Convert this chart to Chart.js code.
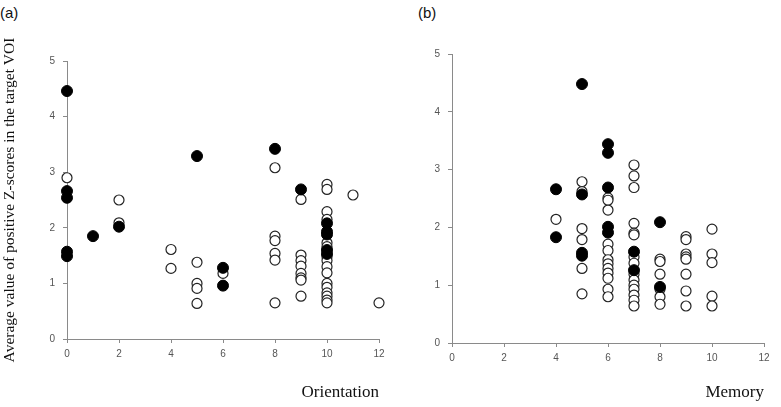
<!DOCTYPE html>
<html>
<head>
<meta charset="utf-8">
<script src="https://cdn.jsdelivr.net/npm/chart.js@4/dist/chart.umd.min.js"></script>
<style>
  body { margin: 0; background: #fff; }
  #wrap { position: relative; width: 781px; height: 407px; overflow: hidden; }
  .panel { position: absolute; top: 0; }
  .tag { position: absolute; top: 4px; font: 15px "Liberation Sans", Arial, sans-serif; color: #111; }
</style>
</head>
<body>
<div id="wrap">
  <div class="tag" style="left:0px">(a)</div>
  <div class="tag" style="left:418px">(b)</div>
  <div class="panel" style="left:0px;width:400px;height:407px"><canvas id="chartA"></canvas></div>
  <div class="panel" style="left:390px;width:391px;height:407px"><canvas id="chartB"></canvas></div>
</div>
<script>
//------------------- data (a) Orientation -------------------
const orientOpenX = [0, 2, 2, 4, 4, 5, 5, 5, 5, 6,
    8, 8, 8, 8, 8, 8,
    9, 9, 9, 9, 9, 9, 9, 9,
    10, 10, 10, 10, 10, 10, 10, 10, 10, 10, 10, 10, 10, 10, 10, 10,
    11, 12];
const orientOpenY = [2.90, 2.50, 2.09, 1.61, 1.27, 1.38, 1.00, 0.91, 0.64, 1.18,
    3.08, 1.85, 1.77, 1.54, 1.42, 0.65,
    2.51, 1.51, 1.41, 1.31, 1.18, 1.10, 1.06, 0.77,
    2.78, 2.69, 2.29, 2.15, 1.73, 1.66, 1.48, 1.41, 1.30, 1.19, 1.00, 0.93, 0.83, 0.77, 0.70, 0.65,
    2.59, 0.65];
const orientFilledX = [0, 0, 0, 0, 0, 1, 2, 5, 6, 6, 8, 9, 10, 10, 10, 10, 10];
const orientFilledY = [4.46, 2.66, 2.54, 1.57, 1.49, 1.85, 2.02, 3.29, 1.28, 0.96, 3.42, 2.69, 2.08, 1.93, 1.88, 1.60, 1.53];

//------------------- data (b) Memory -------------------
const memoryOpenX = [4,
    5, 5, 5, 5, 5, 5,
    6, 6, 6, 6, 6, 6, 6, 6, 6, 6, 6, 6,
    7, 7, 7, 7, 7, 7, 7, 7, 7, 7, 7, 7, 7, 7, 7,
    8, 8, 8, 8, 8, 8,
    9, 9, 9, 9, 9, 9, 9, 9,
    10, 10, 10, 10, 10];
const memoryOpenY = [2.14,
    2.79, 2.62, 1.98, 1.79, 1.29, 0.85,
    2.51, 2.47, 2.30, 1.71, 1.60, 1.44, 1.37, 1.29, 1.21, 1.12, 0.93, 0.80,
    3.08, 2.89, 2.69, 2.07, 1.90, 1.87, 1.49, 1.38, 1.19, 1.09, 1.00, 0.93, 0.83, 0.74, 0.64,
    1.45, 1.41, 1.19, 0.93, 0.80, 0.67,
    1.84, 1.79, 1.54, 1.49, 1.45, 1.19, 0.90, 0.64,
    1.97, 1.54, 1.39, 0.81, 0.64];
const memoryFilledX = [4, 4, 5, 5, 5, 5, 6, 6, 6, 6, 6, 7, 7, 8, 8];
const memoryFilledY = [2.66, 1.83, 4.48, 2.57, 1.56, 1.51, 3.44, 3.29, 2.69, 2.01, 1.91, 1.58, 1.26, 2.09, 0.97];

const xTicks = [0, 2, 4, 6, 8, 10, 12];
const yTicks = [0, 1, 2, 3, 4, 5];

//------------------- helpers -------------------
function toPoints(xs, ys) {
    var pts = [];
    for (var i = 0; i < xs.length; i++) {
        pts.push({x: xs[i], y: ys[i]});
    }
    return pts;
}

const axisColor = '#8a8a8a';
const tickFont = {family: '"Liberation Sans", Arial, sans-serif', size: 10};
const titleFont = {family: '"Liberation Serif", "Times New Roman", serif', size: 17};

function makeChart(id, openX, openY, filledX, filledY, opts) {
    const data = {
        datasets: [
            {
                label: 'filled',
                data: toPoints(filledX, filledY),
                pointStyle: 'circle',
                pointRadius: 5.5,
                backgroundColor: '#000',
                borderColor: '#000',
                borderWidth: 1,
                clip: false
            },
            {
                label: 'open',
                data: toPoints(openX, openY),
                pointStyle: 'circle',
                pointRadius: 5,
                backgroundColor: '#fff',
                borderColor: '#222',
                borderWidth: 1.2,
                clip: false
            }
        ]
    };

    const config = {
        type: 'scatter',
        data: data,
        options: {
            responsive: false,
            animation: false,
            events: [],
            layout: {padding: {left: 0, right: opts.padRight, top: opts.padTop, bottom: 0}},
            plugins: {legend: {display: false}, tooltip: {enabled: false}},
            scales: {
                x: {
                    min: 0, max: 12,
                    afterFit: function(scale) { scale.height = opts.xHeight; },
                    afterBuildTicks: function(scale) { scale.ticks = xTicks.map(v => ({value: v})); },
                    border: {color: axisColor, width: 1},
                    grid: {drawOnChartArea: false, drawTicks: true, tickLength: 4, color: axisColor},
                    ticks: {font: tickFont, color: '#555', padding: 5, maxRotation: 0},
                    title: {display: true, text: opts.xTitle, align: 'end', font: titleFont, color: '#111', padding: {top: 0, bottom: opts.xTitlePad}}
                },
                y: {
                    min: 0, max: 5,
                    afterFit: function(scale) { scale.width = opts.yWidth; },
                    afterBuildTicks: function(scale) { scale.ticks = yTicks.map(v => ({value: v})); },
                    border: {color: axisColor, width: 1},
                    grid: {drawOnChartArea: false, drawTicks: true, tickLength: 4, color: axisColor},
                    ticks: {font: tickFont, color: '#555', padding: 8},
                    title: {display: opts.yTitle != '', text: opts.yTitle, font: {family: titleFont.family, size: 15.5}, color: '#111', padding: {top: 1, bottom: 0}}
                }
            }
        }
    };

    const canvas = document.getElementById(id);
    canvas.width = opts.w;
    canvas.height = 407;
    return new Chart(canvas, config);
}

makeChart('chartA', orientOpenX, orientOpenY, orientFilledX, orientFilledY, {
    w: 400, padRight: 21, padTop: 61, xHeight: 68, yWidth: 67, xTitlePad: 4,
    xTitle: 'Orientation', yTitle: 'Average value of positive Z-scores in the target VOI'
});

makeChart('chartB', memoryOpenX, memoryOpenY, memoryFilledX, memoryFilledY, {
    w: 391, padRight: 17, padTop: 54, xHeight: 64, yWidth: 62, xTitlePad: 4,
    xTitle: 'Memory', yTitle: ''
});
</script>
</body>
</html>
